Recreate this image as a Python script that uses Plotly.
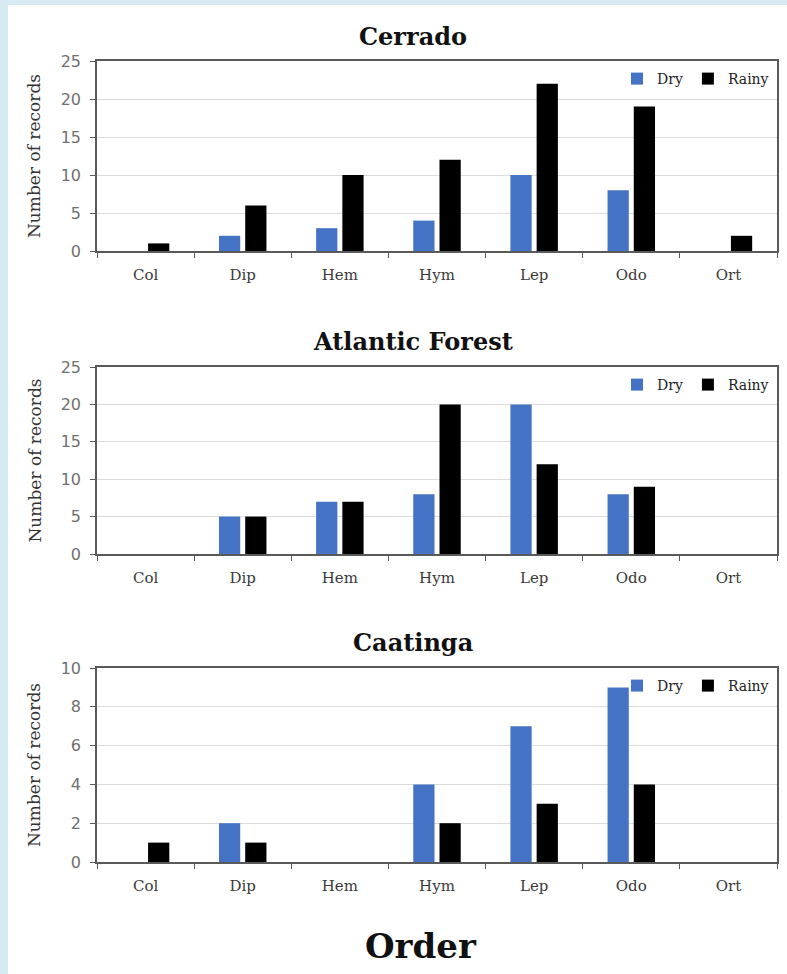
import plotly.graph_objects as go

orders = ["Col", "Dip", "Hem", "Hym", "Lep", "Odo", "Ort"]

cerrado_dry = [0, 2, 3, 4, 10, 8, 0]
cerrado_rainy = [1, 6, 10, 12, 22, 19, 2]

atlantic_dry = [0, 5, 7, 8, 20, 8, 0]
atlantic_rainy = [0, 5, 7, 20, 12, 9, 0]

caatinga_dry = [0, 2, 0, 4, 7, 9, 0]
caatinga_rainy = [1, 1, 0, 2, 3, 4, 0]

panel_titles = ["Cerrado", "Atlantic Forest", "Caatinga"]
y_ranges = [[0, 25], [0, 25], [0, 10]]
y_dticks = [5, 5, 2]

DRY_COLOR = "#4472C4"
RAINY_COLOR = "#000000"
SERIF = "DejaVu Serif"

W, H = 787, 974
def px(x):
    return x / W
def py(y):
    return 1 - y / H

x_left, x_right = 97, 777
panels_y = [(61, 251), (367, 554), (668, 862)]
title_y = [37, 342, 642]

fig = go.Figure()
data = [(cerrado_dry, cerrado_rainy), (atlantic_dry, atlantic_rainy), (caatinga_dry, caatinga_rainy)]

for i, (dry, rainy) in enumerate(data):
    n = "" if i == 0 else str(i + 1)
    leg = "legend" if i == 0 else f"legend{i+1}"
    fig.add_trace(go.Bar(x=orders, y=dry, name="Dry", marker_color=DRY_COLOR,
                         marker_line_width=0, xaxis=f"x{n}", yaxis=f"y{n}", legend=leg))
    fig.add_trace(go.Bar(x=orders, y=rainy, name="Rainy", marker_color=RAINY_COLOR,
                         marker_line_width=0, xaxis=f"x{n}", yaxis=f"y{n}", legend=leg))

layout = dict(
    width=W, height=H,
    margin=dict(l=0, r=0, t=0, b=0, pad=0, autoexpand=False),
    paper_bgcolor="white", plot_bgcolor="white",
    barmode="group", bargap=0.46, bargroupgap=0.19,
    font=dict(family=SERIF, color="#333333"),
)

annotations = []
shapes = [
    dict(type="rect", xref="paper", yref="paper", x0=0, x1=px(8), y0=0, y1=1,
         fillcolor="#d7eaf1", line_width=0, layer="below"),
    dict(type="rect", xref="paper", yref="paper", x0=0, x1=1, y0=py(5), y1=1,
         fillcolor="#d7eaf1", line_width=0, layer="below"),
]

for i in range(3):
    n = "" if i == 0 else str(i + 1)
    top, bot = panels_y[i]
    layout[f"xaxis{n}"] = dict(
        domain=[px(x_left), px(x_right)], anchor=f"y{n}",
        type="category", categoryorder="array", categoryarray=orders,
        showline=True, linecolor="#5a5a5a", linewidth=1.6, mirror=True,
        ticks="outside", tickson="boundaries", ticklen=5, tickcolor="#5a5a5a",
        ticklabelstandoff=9,
        tickfont=dict(family=SERIF, size=15, color="#3a3a3a"),
        showgrid=False, fixedrange=True,
    )
    layout[f"yaxis{n}"] = dict(
        domain=[py(bot), py(top)], anchor=f"x{n}",
        range=y_ranges[i], dtick=y_dticks[i],
        showline=True, linecolor="#5a5a5a", linewidth=1.6, mirror=True,
        ticks="outside", ticklen=5, tickcolor="#5a5a5a",
        ticklabelstandoff=6,
        showgrid=True, gridcolor="#dcdcdc", gridwidth=1,
        zeroline=False,
        tickfont=dict(family="DejaVu Sans", size=16, color="#707070"),
        fixedrange=True,
    )
    leg = "legend" if i == 0 else f"legend{i+1}"
    layout[leg] = dict(
        orientation="h", x=px(x_right - 3), xanchor="right",
        y=py(top + 2), yanchor="top",
        font=dict(family=SERIF, size=14, color="#222222"),
        bgcolor="rgba(0,0,0,0)", itemwidth=30, tracegroupgap=0,
        itemclick=False,
    )
    annotations.append(dict(
        text=f"<b>{panel_titles[i]}</b>", xref="paper", yref="paper",
        x=px(x_left + (x_right - x_left) / 2 - 24), y=py(title_y[i]),
        xanchor="center", yanchor="middle", showarrow=False,
        font=dict(family=SERIF, size=24, color="#111111"),
    ))
    annotations.append(dict(
        text="Number of records", xref="paper", yref="paper",
        x=px(34), y=py((top + bot) / 2), textangle=-90,
        xanchor="center", yanchor="middle", showarrow=False,
        font=dict(family=SERIF, size=17, color="#333333"),
    ))

annotations.append(dict(
    text="<b>Order</b>", xref="paper", yref="paper",
    x=px(421), y=py(946), xanchor="center", yanchor="middle", showarrow=False,
    font=dict(family=SERIF, size=34, color="#111111"),
))

layout["annotations"] = annotations
layout["shapes"] = shapes
fig.update_layout(**layout)

fig.write_html("out.html", config={"displayModeBar": False},
               post_script="document.body.style.margin='0';")
